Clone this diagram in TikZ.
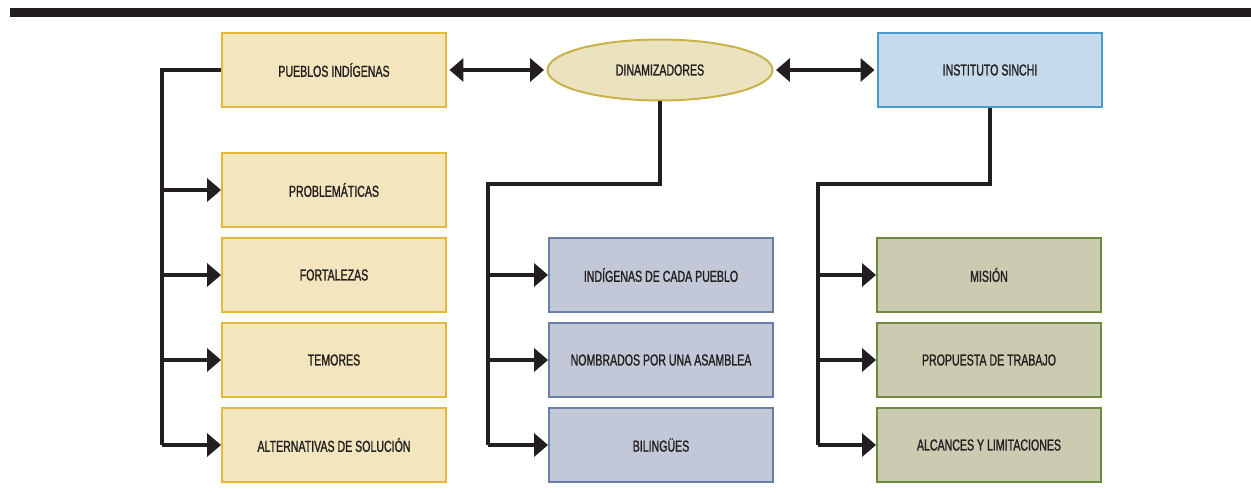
\documentclass[tikz,border=0pt]{standalone}
\usepackage{fontspec}
\setmainfont{Liberation Sans}[FakeStretch=0.67,FakeBold=1.2]
\usetikzlibrary{arrows.meta,shapes.geometric}

\definecolor{ink}{RGB}{35,31,32}
\definecolor{yelfill}{RGB}{243,229,189}
\definecolor{yeldraw}{RGB}{228,185,58}
\definecolor{elfill}{RGB}{235,226,191}
\definecolor{eldraw}{RGB}{201,178,74}
\definecolor{bluefill}{RGB}{197,218,234}
\definecolor{bluedraw}{RGB}{76,154,203}
\definecolor{greyfill}{RGB}{195,200,216}
\definecolor{greydraw}{RGB}{106,127,168}
\definecolor{grnfill}{RGB}{202,203,176}
\definecolor{grndraw}{RGB}{110,139,61}

\begin{document}
\begin{tikzpicture}[x=0.02cm,y=-0.02cm,
    font=\fontsize{9}{10.8}\selectfont, text=ink,
    box/.style={rectangle, line width=0.04cm, minimum width=4.48cm,
      minimum height=1.48cm, inner sep=0pt},
    yelbox/.style={box, draw=yeldraw, fill=yelfill},
    bluebox/.style={box, draw=bluedraw, fill=bluefill},
    greybox/.style={box, draw=greydraw, fill=greyfill},
    grnbox/.style={box, draw=grndraw, fill=grnfill},
    dinambox/.style={ellipse, line width=0.04cm, draw=eldraw, fill=elfill,
      minimum width=4.5cm, minimum height=1.22cm, inner sep=0pt},
    conn/.style={draw=ink, line width=0.08cm},
    tip/.style={conn, -{Triangle[length=0.28cm,width=0.46cm]}},
    dtip/.style={conn, {Triangle[length=0.28cm,width=0.46cm]}-{Triangle[length=0.28cm,width=0.46cm]},
      shorten <=0.05cm, shorten >=0.05cm}]
\useasboundingbox (0,0) rectangle (1251,493);

% top bar
\fill[ink] (10,8) rectangle (1251,17);

% heads
\node[yelbox] (pueblos) at (334,70) {PUEBLOS INDÍGENAS};
\node[dinambox] (dinam) at (660,70) {DINAMIZADORES};
\node[bluebox] (sinchi) at (990,70) {INSTITUTO SINCHI};

% left column
\node[yelbox] (problem) at (334,190) {PROBLEMÁTICAS};
\node[yelbox] (fortal) at (334,275) {FORTALEZAS};
\node[yelbox] (temores) at (334,360) {TEMORES};
\node[yelbox] (altern) at (334,445) {ALTERNATIVAS DE SOLUCIÓN};

% middle column
\node[greybox] (indig) at (661,275) {INDÍGENAS DE CADA PUEBLO};
\node[greybox] (nombr) at (661,360) {NOMBRADOS POR UNA ASAMBLEA};
\node[greybox] (bilin) at (661,445) {BILINGÜES};

% right column
\node[grnbox] (mision) at (989,275) {MISIÓN};
\node[grnbox] (propu) at (989,360) {PROPUESTA DE TRABAJO};
\node[grnbox] (alcan) at (989,445) {ALCANCES Y LIMITACIONES};

% double arrows
\draw[dtip] (pueblos.east) -- (dinam.west);
\draw[dtip] (dinam.east) -- (sinchi.west);

% trunks
\coordinate (ltrunk) at (162,70);
\coordinate (mbend) at (488,184);
\coordinate (rbend) at (818,184);

\draw[conn] (pueblos.west) -- (ltrunk) -- (ltrunk |- altern);
\draw[conn] (dinam.south) |- (mbend) -- (mbend |- bilin);
\draw[conn] (sinchi.south) |- (rbend) -- (rbend |- alcan);

% branches
\foreach \n in {problem,fortal,temores,altern}
  \draw[tip] (ltrunk |- \n) -- (\n.west);
\foreach \n in {indig,nombr,bilin}
  \draw[tip] (mbend |- \n) -- (\n.west);
\foreach \n in {mision,propu,alcan}
  \draw[tip] (rbend |- \n) -- (\n.west);
\end{tikzpicture}
\end{document}
